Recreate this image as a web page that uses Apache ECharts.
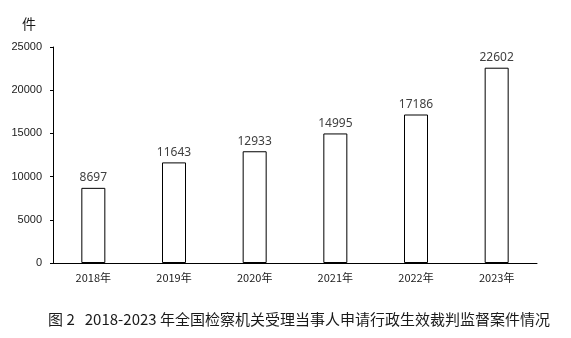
<!DOCTYPE html>
<html>
<head>
<meta charset="utf-8">
<script src="https://cdn.jsdelivr.net/npm/echarts@6/dist/echarts.min.js"></script>
<style>
html,body{margin:0;padding:0;background:#fff;}
#c{width:571px;height:338px;}
</style>
</head>
<body>
<div id="c"></div>
<script>
var categories = ['2018年', '2019年', '2020年', '2021年', '2022年', '2023年'];
var values = [8697, 11643, 12933, 14995, 17186, 22602];
var yTicks = { min: 0, max: 25000, interval: 5000 };
var unitLabel = '件';
var caption = '图 2   2018-2023 年全国检察机关受理当事人申请行政生效裁判监督案件情况';

var chart = echarts.init(document.getElementById('c'), null, { renderer: 'canvas' });
chart.setOption({
  animation: false,
  backgroundColor: '#fff',
  title: {
    text: caption,
    left: 299,
    textAlign: 'center',
    top: 312,
    padding: 0,
    textStyle: { fontFamily: '"Noto Sans CJK SC", sans-serif', fontSize: 15, fontWeight: 'normal', color: '#1a1a1a' }
  },
  grid: { left: 53, right: 34, top: 47, bottom: 75, containLabel: false },
  xAxis: {
    type: 'category',
    data: categories,
    axisLine: { lineStyle: { color: '#000', width: 1 } },
    axisTick: { show: false },
    axisLabel: { margin: 9, fontSize: 11, color: '#1a1a1a', fontFamily: '"Noto Sans CJK SC", sans-serif' }
  },
  yAxis: {
    type: 'value',
    min: yTicks.min, max: yTicks.max, interval: yTicks.interval,
    name: unitLabel,
    nameLocation: 'end',
    nameGap: 16,
    nameTextStyle: { align: 'right', padding: [0, 17, 0, 0], fontSize: 14, color: '#1a1a1a', fontFamily: '"Noto Sans CJK SC", sans-serif' },
    axisLine: { show: true, lineStyle: { color: '#000', width: 1 } },
    axisTick: { show: true, length: 3, lineStyle: { color: '#000' } },
    splitLine: { show: false },
    axisLabel: { margin: 11, fontSize: 11, color: '#1a1a1a', fontFamily: '"Liberation Sans", sans-serif', formatter: function (v) { return String(v); } }
  },
  series: [{
    type: 'bar',
    data: values,
    barWidth: 24,
    itemStyle: { color: '#fff', borderColor: '#000', borderWidth: 1 },
    label: { show: true, position: 'top', distance: 4, fontSize: 12, color: '#404040', fontFamily: '"Noto Sans", sans-serif' }
  }]
});
</script>
</body>
</html>
